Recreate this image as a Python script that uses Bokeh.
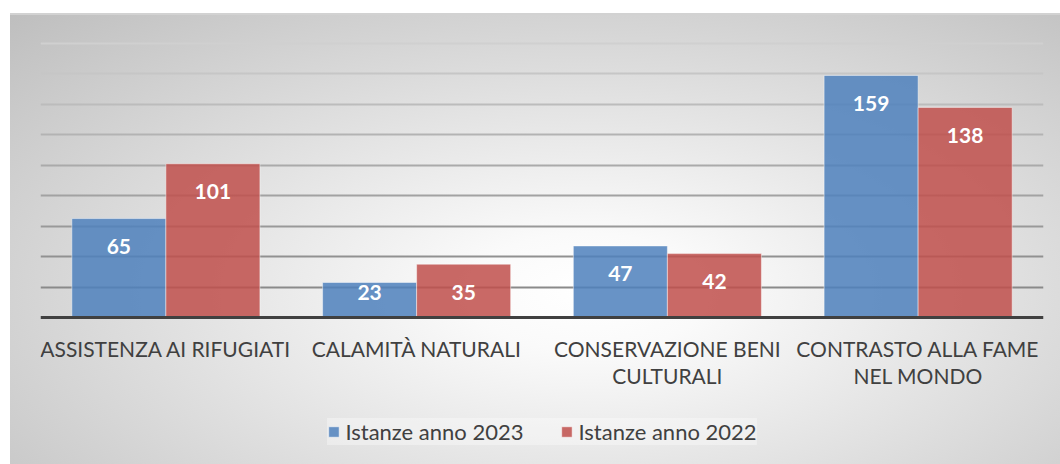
from bokeh.plotting import figure
from bokeh.models import (ColumnDataSource, FactorRange, Legend, LegendItem, Grid,
                          FixedTicker, InlineStyleSheet, Range1d)
from bokeh.transform import dodge
from bokeh.core.properties import value
from bokeh.embed import file_html
from bokeh.resources import INLINE

categories = ["ASSISTENZA AI RIFUGIATI", "CALAMITÀ NATURALI",
              "CONSERVAZIONE BENI\nCULTURALI", "CONTRASTO ALLA FAME\nNEL MONDO"]
istanze_2023 = [65, 23, 47, 159]
istanze_2022 = [101, 35, 42, 138]
series_names = ["Istanze anno 2023", "Istanze anno 2022"]
grid_values = [20, 40, 60, 80, 100, 120, 140, 160, 180]

BLUE = "#4F81BD"
RED = "#C0504D"
FONT = "Lato"

# layout (pixels)
W, H = 1060, 464
TOP180, BASE = 43, 317       # pixel rows of value 180 and value 0
FRAME_TOP = 39
Y_TOP_VAL = 180
px_per_unit = (BASE - TOP180) / Y_TOP_VAL
y_max = Y_TOP_VAL + (TOP180 - FRAME_TOP) / px_per_unit
y_min = -(H - BASE) / px_per_unit   # frame extends to the bottom so the legend fits inside

def label_y(vals):
    # keep label inside bar, near its top (about 28 px below the top)
    return [max(v - 28 / px_per_unit, 25 / px_per_unit) for v in vals]

src = ColumnDataSource(dict(
    cat=categories,
    v23=istanze_2023, v22=istanze_2022,
    t23=[str(v) for v in istanze_2023], t22=[str(v) for v in istanze_2022],
    y23=label_y(istanze_2023), y22=label_y(istanze_2022),
))

p = figure(x_range=FactorRange(*categories, range_padding=0), y_range=Range1d(y_min, y_max),
           width=W, height=H, output_backend="svg", toolbar_location=None,
           min_border_left=40, min_border_right=17, min_border_top=FRAME_TOP, min_border_bottom=0)
p.x_range.range_padding = 0

css = """
:host {
  background:
    linear-gradient(#d2d2d2, #d2d2d2) 10px 13px / calc(100% - 10px) 2px no-repeat,
    radial-gradient(ellipse farthest-corner at 55% 62%, #ffffff 0%, #fafafa 15%, #bebebe 100%) 10px 13px / calc(100% - 10px) calc(100% - 13px) no-repeat,
    #ffffff;
}
"""
p.stylesheets = [InlineStyleSheet(css=css)]
p.background_fill_alpha = 0
p.border_fill_alpha = 0
p.outline_line_color = None

p.xgrid.visible = False
p.ygrid.visible = False
shades = ["#8a8a8a", "#919191", "#999999", "#a2a2a2", "#aaaaaa", "#b3b3b3", "#bcbcbc", "#c6c6c6", "#d0d0d0"]
for v, c in zip(grid_values, shades):
    g = Grid(dimension=1, ticker=FixedTicker(ticks=[v]), grid_line_color=c, grid_line_width=2)
    p.add_layout(g)

p.yaxis.visible = False

b23 = p.vbar(x=dodge("cat", -0.1875, range=p.x_range), top="v23", bottom=0, width=0.375, source=src,
             fill_color=BLUE, fill_alpha=0.86, line_color="white", line_alpha=0.45, line_width=1)
b22 = p.vbar(x=dodge("cat", 0.1875, range=p.x_range), top="v22", bottom=0, width=0.375, source=src,
             fill_color=RED, fill_alpha=0.86, line_color="white", line_alpha=0.45, line_width=1)

for xo, yc, tc in [(-0.1875, "y23", "t23"), (0.1875, "y22", "t22")]:
    p.text(x=dodge("cat", xo, range=p.x_range), y=yc, text=tc, source=src,
           text_color="white", text_font=value(FONT), text_font_style="bold",
           text_font_size="21px", text_align="center", text_baseline="middle")

ax = p.xaxis[0]
ax.fixed_location = 0
ax.axis_line_color = "#404040"
ax.axis_line_width = 3
ax.major_tick_line_color = None
ax.minor_tick_line_color = None
ax.major_tick_out = 0
ax.major_label_standoff = 18
ax.major_label_text_font = FONT
ax.major_label_text_font_size = "21px"
ax.major_label_text_color = "#404040"
ax.major_label_text_line_height = 1.1

legend = Legend(items=[LegendItem(label=series_names[0], renderers=[b23]),
                       LegendItem(label=series_names[1], renderers=[b22])],
                orientation="horizontal", location="bottom_center",
                label_text_font=FONT, label_text_font_size="22px", label_text_color="#404040",
                glyph_width=13, glyph_height=13, label_standoff=6, spacing=36,
                background_fill_color="white", background_fill_alpha=0.35,
                border_line_color=None, margin=19, padding=8)
p.add_layout(legend)

open("out.html", "w").write(file_html(p, INLINE))
